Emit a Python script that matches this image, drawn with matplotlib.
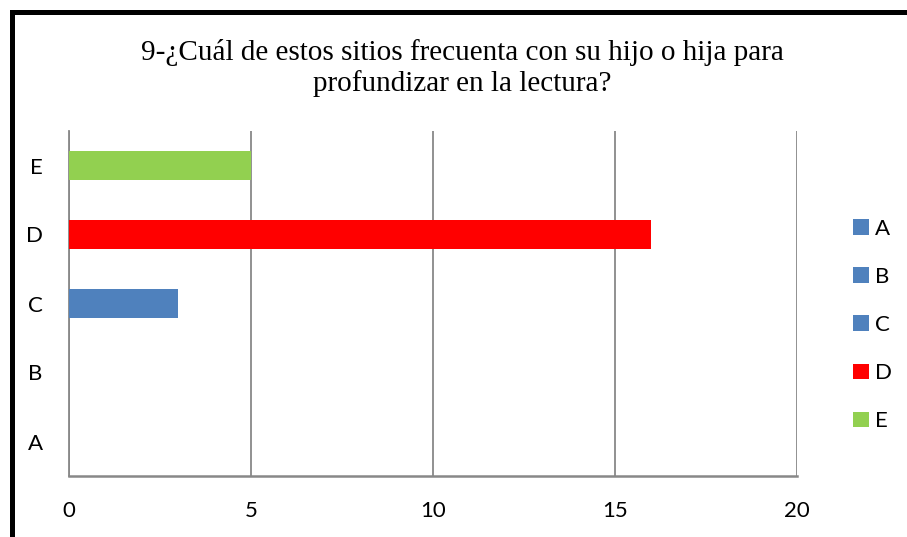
import matplotlib
matplotlib.use("Agg")
import matplotlib.pyplot as plt
from matplotlib.patches import Patch
from matplotlib.lines import Line2D

categories = ["A", "B", "C", "D", "E"]
values = [0, 0, 3, 16, 5]
colors = ["#4F81BD", "#4F81BD", "#4F81BD", "#FF0000", "#92D050"]
xticks = [0, 5, 10, 15, 20]
title = "9-¿Cuál de estos sitios frecuenta con su hijo o hija para\nprofundizar en la lectura?"

W, H = 907, 537
fig = plt.figure(figsize=(W / 100, H / 100), dpi=100)
fig.patch.set_facecolor("white")

# plot area in pixels: x 69..797, y 131..475
ax = fig.add_axes([69 / W, 1 - 476 / H, (797 - 69) / W, (476 - 131) / H])
y = list(range(len(categories)))
ax.barh(y, values, height=0.41, color=colors, zorder=3)
ax.set_xlim(0, 20)
ax.set_ylim(-0.5, len(categories) - 0.5)
ax.set_xticks(xticks)
ax.set_yticks(y)
ax.set_yticklabels(categories)
ax.grid(axis="x", color="#888888", linewidth=1.3, zorder=0)
for s in ["top", "right"]:
    ax.spines[s].set_visible(False)
ax.spines["left"].set_color("#888888")
ax.spines["bottom"].set_color("#888888")
ax.spines["left"].set_linewidth(1.3)
ax.spines["bottom"].set_linewidth(1.8)
ax.tick_params(length=0, labelsize=16, pad=18)
ax.tick_params(axis="y", pad=19)
for lab in ax.get_xticklabels() + ax.get_yticklabels():
    lab.set_fontfamily("Lato")

handles = [Patch(facecolor=c, edgecolor="none") for c in colors]
leg = fig.legend(handles, categories, loc="center left",
                 bbox_to_anchor=(853 / W, 1 - 325 / H),
                 frameon=False, prop={"family": "Lato", "size": 16},
                 handlelength=0.7, handleheight=0.7, handletextpad=0.3,
                 labelspacing=1.27, borderpad=0, borderaxespad=0)

fig.text(462 / W, 1 - 68 / H, title, ha="center", va="center",
         fontfamily="Liberation Serif", fontsize=21, linespacing=1.2)

# outer border (top and left visible, right/bottom cut off)
fig.add_artist(Line2D([11.5 / W, 1.0], [1 - 11.5 / H, 1 - 11.5 / H],
                      transform=fig.transFigure, color="black", linewidth=3.6,
                      solid_capstyle="projecting"))
fig.add_artist(Line2D([11.5 / W, 11.5 / W], [0, 1 - 11.5 / H],
                      transform=fig.transFigure, color="black", linewidth=3.6,
                      solid_capstyle="projecting"))

fig.savefig("out.png", dpi=100, facecolor="white")
